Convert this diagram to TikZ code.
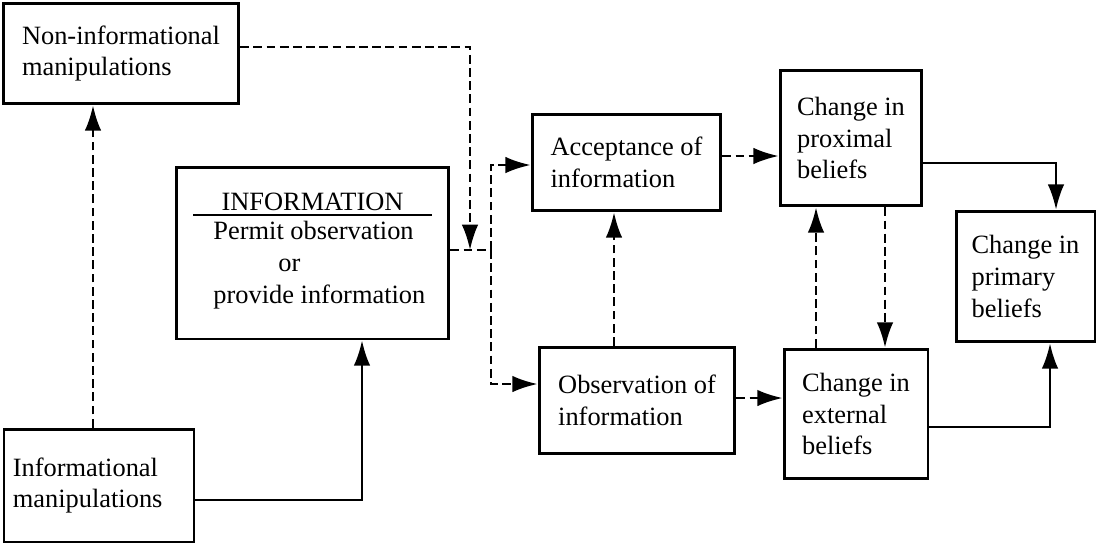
\documentclass[tikz,border=0pt]{standalone}
\usepackage{fontspec}
\setmainfont{Liberation Serif}
\usepackage{tikz}
\usetikzlibrary{arrows.meta,positioning}
\tikzstyle{blk} = [rectangle, draw=black, line width=1.3pt, align=left, inner sep=0pt, font=\fontsize{12}{14.5}\selectfont]
\tikzstyle{txt} = [inner sep=0pt, font=\fontsize{12}{14.5}\selectfont]
\tikzstyle{dashline} = [line width=1.1pt, dash pattern=on 4pt off 2pt]
\tikzstyle{dasharrow} = [dashline, ->]
\tikzstyle{solidarrow} = [line width=1.1pt, ->]

\begin{document}
\begin{tikzpicture}[x=0.4545pt,y=-0.4545pt,>={Latex[length=11.5pt,width=7.5pt]}]
\useasboundingbox (0,0) rectangle (1098,545);
%%
\node (noninfo) at (121,53.5) [blk,minimum width=107pt,minimum height=45.8pt] {Non-informational\\manipulations};
\node (infomanip) at (99,485.5) [blk,minimum width=86.3pt,minimum height=51.3pt,text width=78.3pt,inner xsep=4pt] {Informational\\manipulations};
\node (info) at (312.5,253) [blk,minimum width=124pt,minimum height=78.1pt] {};
\node (infohead) at (312.5,202) [txt] {INFORMATION};
\node (infobody) at (213,265) [txt,anchor=west,align=left] {Permit observation\\\hspace*{29.5pt}or\\provide information};
\draw [line width=1pt] (193,215) -- (432,215);
\node (accept) at (626.5,162.5) [blk,minimum width=85.8pt,minimum height=44pt] {Acceptance of\\information};
\node (observe) at (637,400.5) [blk,minimum width=89pt,minimum height=48.5pt] {Observation of\\information};
\node (prox) at (851,138) [blk,minimum width=64.4pt,minimum height=61.7pt] {Change in\\proximal\\beliefs};
\node (extern) at (856,414) [blk,minimum width=65.4pt,minimum height=59pt] {Change in\\external\\beliefs};
\node (primary) at (1025.5,276.5) [blk,minimum width=63.1pt,minimum height=59.4pt] {Change in\\primary\\beliefs};
%
\coordinate (c1) at (93,0);
\draw [dasharrow] (infomanip.north -| c1) -- (noninfo.south -| c1);
\coordinate (c2) at (362,500);
\draw [solidarrow] (infomanip.east |- c2) -| (info.south -| c2);
\coordinate (c3) at (470,47);
\coordinate (join) at (470,250);
\draw [dasharrow] (noninfo.east |- c3) -| (join);
\coordinate (split) at (491,250);
\coordinate (s1) at (0,165);
\coordinate (s2) at (0,384);
\draw [dashline] (info.east |- split) -- (split);
\draw [dasharrow] (split) |- (accept.west |- s1);
\draw [dasharrow] (split) |- (observe.west |- s2);
\coordinate (c4) at (0,156);
\draw [dasharrow] (accept.east |- c4) -- (prox.west |- c4);
\coordinate (c5) at (1056,163);
\draw [solidarrow] (prox.east |- c5) -| (primary.north -| c5);
\coordinate (c6) at (614,0);
\draw [dasharrow] (observe.north -| c6) -- (accept.south -| c6);
\coordinate (c7) at (816,0);
\draw [dasharrow] (extern.north -| c7) -- (prox.south -| c7);
\coordinate (c8) at (885,0);
\draw [dasharrow] (prox.south -| c8) -- (extern.north -| c8);
\coordinate (c9) at (0,398);
\draw [dasharrow] (observe.east |- c9) -- (extern.west |- c9);
\coordinate (c10) at (1050,427);
\draw [solidarrow] (extern.east |- c10) -| (primary.south -| c10);
%
\end{tikzpicture}
\end{document}
